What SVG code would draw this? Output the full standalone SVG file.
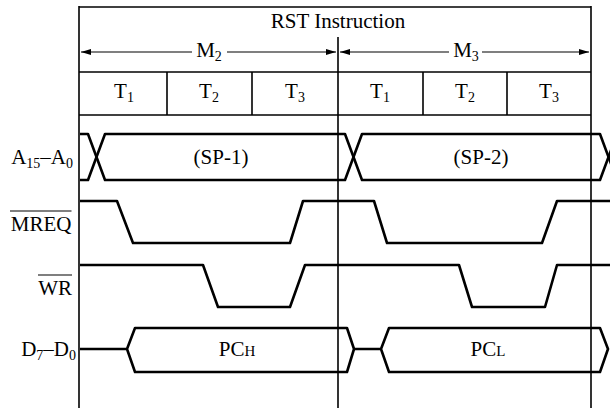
<svg xmlns="http://www.w3.org/2000/svg" width="610" height="408" viewBox="0 0 610 408">
<defs>
<marker id="ah" viewBox="0 0 10 8" refX="10" refY="4" markerWidth="10" markerHeight="8" markerUnits="userSpaceOnUse" orient="auto-start-reverse">
<path d="M0,1 L10,4 L0,7 Z" fill="#000"/>
</marker>
<style>
text{font-family:"Liberation Serif","Times New Roman",serif;font-size:21px;fill:#000}
.sub{font-size:14px}
.c{text-anchor:middle}
.e{text-anchor:end}
.frame{stroke:#000;stroke-width:1.6;fill:none}
.thin{stroke:#000;stroke-width:1.2;fill:none}
.sig{stroke:#000;stroke-width:2.6;fill:none;stroke-linejoin:round}
.arr{stroke:#000;stroke-width:1.2;fill:none}
</style>
</defs>
<rect width="610" height="408" fill="#fff"/>

<g id="frame">
<line class="frame" x1="79" y1="7" x2="591" y2="7" stroke-width="2"/>
<line class="frame" x1="79" y1="6" x2="79" y2="408" stroke-width="2"/>
<line class="frame" x1="591" y1="6" x2="591" y2="408"/>
<line class="frame" x1="338" y1="37" x2="338" y2="408"/>
<line class="frame" x1="79" y1="72" x2="591" y2="72"/>
<line class="frame" x1="79" y1="115" x2="591" y2="115"/>
<line class="frame" x1="167" y1="72" x2="167" y2="115" stroke-width="2"/>
<line class="frame" x1="252" y1="72" x2="252" y2="115"/>
<line class="frame" x1="423" y1="72" x2="423" y2="115"/>
<line class="frame" x1="507" y1="72" x2="507" y2="115"/>
</g>

<g id="header">
<text class="c" x="338" y="28">RST Instruction</text>
<text class="c" x="209" y="57">M<tspan class="sub" dy="4">2</tspan></text>
<text class="c" x="466" y="57">M<tspan class="sub" dy="4">3</tspan></text>
<text class="c" x="124" y="98">T<tspan class="sub" dy="4">1</tspan></text>
<text class="c" x="209" y="98">T<tspan class="sub" dy="4">2</tspan></text>
<text class="c" x="295" y="98">T<tspan class="sub" dy="4">3</tspan></text>
<text class="c" x="380" y="98">T<tspan class="sub" dy="4">1</tspan></text>
<text class="c" x="465" y="98">T<tspan class="sub" dy="4">2</tspan></text>
<text class="c" x="549" y="98">T<tspan class="sub" dy="4">3</tspan></text>
</g>

<g id="connectors">
<line class="arr" x1="192" y1="52" x2="81" y2="52" marker-end="url(#ah)"/>
<line class="arr" x1="227" y1="52" x2="336" y2="52" marker-end="url(#ah)"/>
<line class="arr" x1="449" y1="52" x2="340" y2="52" marker-end="url(#ah)"/>
<line class="arr" x1="482" y1="52" x2="589" y2="52" marker-end="url(#ah)"/>
</g>

<g id="labels">
<text class="e" x="73" y="164">A<tspan class="sub" dy="4">15</tspan><tspan dy="-4">–A</tspan><tspan class="sub" dy="4">0</tspan></text>
<text class="e" x="71.5" y="231">MREQ</text>
<line class="thin" x1="10" y1="211" x2="71.5" y2="211"/>
<text class="e" x="72" y="295">WR</text>
<line class="thin" x1="38" y1="275" x2="72" y2="275"/>
<text class="e" x="76" y="356">D<tspan class="sub" dy="4">7</tspan><tspan dy="-4">–D</tspan><tspan class="sub" dy="4">0</tspan></text>
</g>

<g id="addr-bus">
<path class="sig" d="M80,134 L88,134 L105,180 L345,180 L362,134 L600,134 L617,180"/>
<path class="sig" d="M80,180 L88,180 L105,134 L345,134 L362,180 L600,180 L617,134"/>
<text class="c" x="221" y="164">(SP-1)</text>
<text class="c" x="481" y="164">(SP-2)</text>
</g>

<g id="mreq">
<path class="sig" d="M80,201 L117,201 L133,243 L290,243 L303,201 L374,201 L387,243 L542,243 L557,201 L612,201"/>
</g>

<g id="wr">
<path class="sig" d="M80,265 L203,265 L218,307 L290,307 L305,265 L459,265 L472,307 L545,307 L557,265 L612,265"/>
</g>

<g id="data-bus">
<path class="sig" d="M80,349 L127,349 L135,328 L347,328 L354,349 L347,372 L135,372 L127,349"/>
<path class="sig" d="M354,349 L381,349 L389,328 L600,328 L608,349 L600,372 L389,372 L381,349"/>
<text class="c" x="237" y="356">PC<tspan font-size="15">H</tspan></text>
<text class="c" x="488" y="356">PC<tspan font-size="15">L</tspan></text>
</g>
</svg>
